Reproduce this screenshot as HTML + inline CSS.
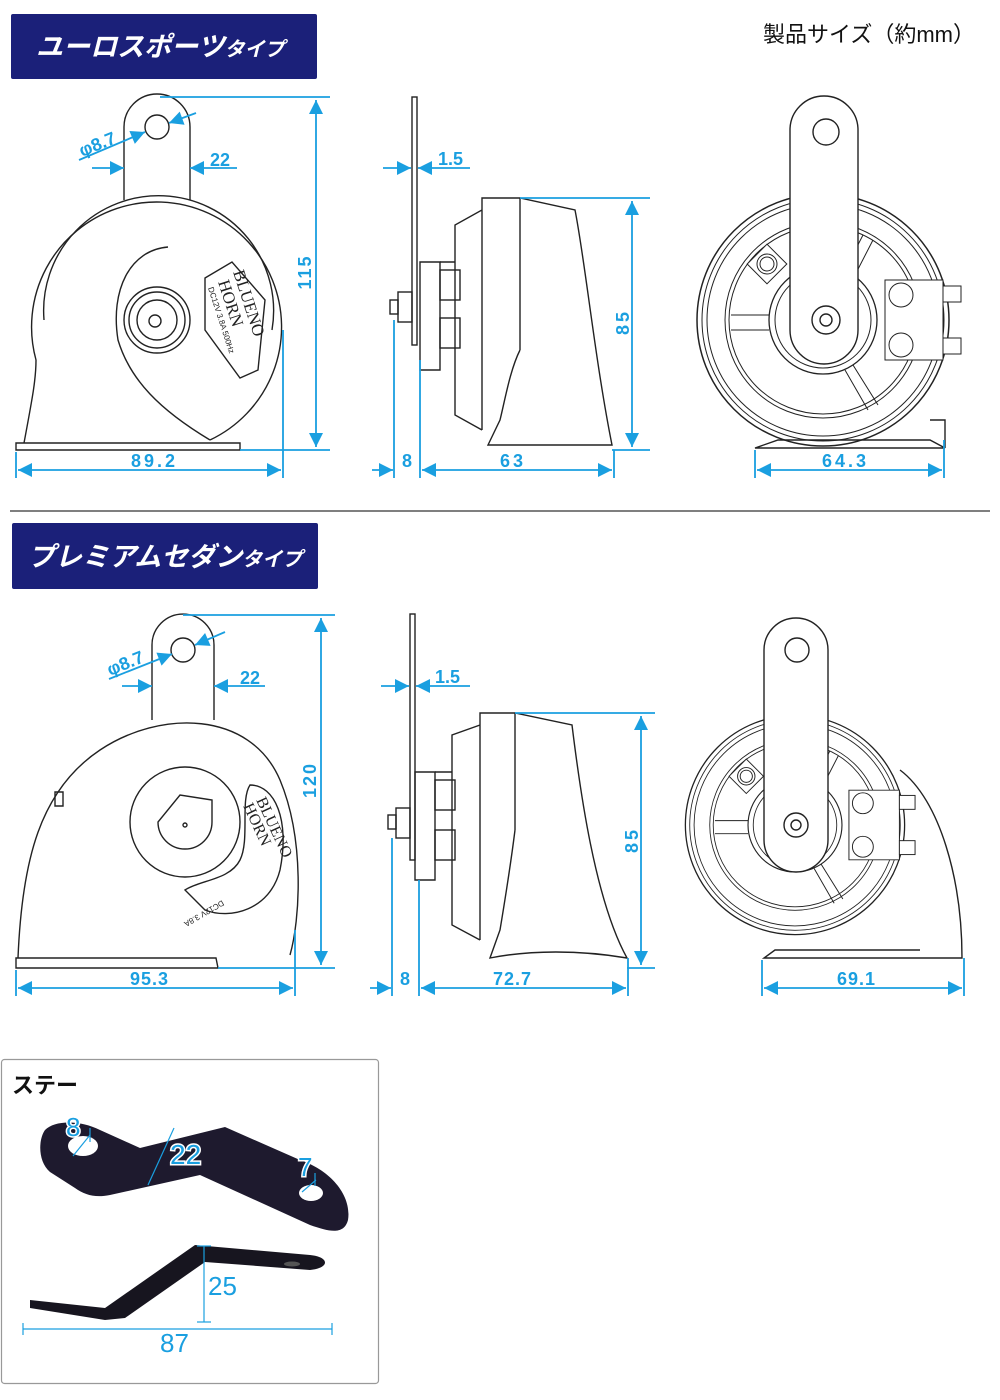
<!DOCTYPE html>
<html><head><meta charset="utf-8"><style>
html,body{margin:0;padding:0;background:#fff;}
svg{display:block}
.t{font-family:"Liberation Sans","Noto Sans CJK JP",sans-serif}
</style></head><body>
<svg width="1000" height="1400" viewBox="0 0 1000 1400" xmlns="http://www.w3.org/2000/svg">
<defs>
<marker id="a" viewBox="0 0 10 10" refX="10" refY="5" markerWidth="18" markerHeight="14" markerUnits="userSpaceOnUse" orient="auto-start-reverse"><path d="M0,0 L10,5 L0,10 z" fill="#1a9fe0"/></marker>
<g id="back">
 <circle cx="0" cy="0" r="126" fill="none" stroke="#222" stroke-width="1.5"/>
 <circle cx="0" cy="0" r="121" fill="none" stroke="#222" stroke-width="1"/>
 <circle cx="0" cy="0" r="116" fill="none" stroke="#222" stroke-width="1"/>
 <circle cx="0" cy="0" r="98" fill="none" stroke="#222" stroke-width="1"/>
 <circle cx="0" cy="0" r="94" fill="none" stroke="#222" stroke-width="1"/>
 <circle cx="0" cy="0" r="54" fill="none" stroke="#222" stroke-width="1.3"/>
 <circle cx="0" cy="0" r="48" fill="none" stroke="#222" stroke-width="1"/>
 <path d="M-92,-5 L-54,-5 M-92,10 L-54,10 M22,50 L45,90 M30,45 L55,85 M22,-50 L40,-85 M32,-45 L50,-80" stroke="#222" fill="none"/>
 <rect x="-70" y="-70" width="28" height="28" transform="rotate(45 -56 -56)" fill="#fff" stroke="#222"/>
 <circle cx="-56" cy="-56" r="10" fill="none" stroke="#222"/><circle cx="-56" cy="-56" r="7" fill="none" stroke="#222"/>
 <path d="M62,-40 h58 v80 h-58 z" fill="#fff" stroke="#222"/>
 <circle cx="78" cy="-25" r="12" fill="none" stroke="#222"/><circle cx="78" cy="25" r="12" fill="none" stroke="#222"/>
 <rect x="120" y="-34" width="18" height="16" fill="#fff" stroke="#222"/><rect x="120" y="18" width="18" height="16" fill="#fff" stroke="#222"/>
 <circle cx="-1" cy="0" r="14" fill="#fff" stroke="#222"/><circle cx="-1" cy="0" r="6" fill="none" stroke="#222"/><circle cx="-1" cy="0" r="3" fill="none" stroke="#222"/>
</g>
</defs>

<rect x="11" y="14" width="306" height="65" rx="2" fill="#1b2079"/>
<text x="36" y="56" class="t" font-size="27" font-weight="bold" font-style="italic" fill="#fff">ユーロスポーツ<tspan font-size="20">タイプ</tspan></text>
<text x="763" y="42" class="t" font-size="22" fill="#111">製品サイズ（約mm）</text>
<rect x="12" y="523" width="306" height="66" rx="2" fill="#1b2079"/>
<text x="28" y="566" class="t" font-size="27" font-weight="bold" font-style="italic" fill="#fff">プレミアムセダン<tspan font-size="20">タイプ</tspan></text>
<line x1="10" y1="511" x2="990" y2="511" stroke="#333" stroke-width="1.2"/>

<g fill="none" stroke="#222" stroke-width="1.4">
<path d="M124,200 L124,127 A33,33 0 0 1 190,127 L190,200"/>
<circle cx="157" cy="127" r="12"/>
<path d="M24,443 C32,400 36,380 36,360 A125,125 0 1 1 210,440"/>
<path d="M44,320 A115,115 0 1 1 272,330"/>
<path d="M16,443 L210,443 L240,443 L240,450 L16,450 Z"/>
<path d="M168,247 C130,250 110,290 118,340 C130,380 160,410 210,440"/>
<circle cx="157" cy="320" r="33"/><circle cx="157" cy="320" r="28"/><circle cx="157" cy="320" r="20"/>
<circle cx="155" cy="321" r="6"/>
<path d="M205,278 L232,262 L265,300 L258,370 L240,378 L205,330 Z"/>
<rect x="412" y="97" width="5" height="248"/>
<rect x="398" y="292" width="14" height="30"/>
<rect x="390" y="300" width="8" height="14"/>
<path d="M420,262 L440,262 L440,370 L420,370 Z"/>
<path d="M440,262 L455,262 L455,225 L482,210 L482,198 L520,198 L575,210 C585,260 595,360 612,445 L488,445 L500,420 C505,400 510,370 520,350 M482,198 L482,430 M520,198 L520,350 M455,262 L455,415 L482,430"/>
<rect x="440" y="270" width="20" height="30"/><rect x="440" y="318" width="20" height="30"/>
<use href="#back" x="823" y="320" stroke-width="1"/>
<path d="M790,330 L790,130 A34,34 0 0 1 858,130 L858,330 A34,34 0 0 1 790,330 Z" fill="#fff"/>
<circle cx="826" cy="132" r="13"/>
<circle cx="826" cy="320" r="14"/><circle cx="826" cy="320" r="6"/>
<path d="M755,448 L778,440 L930,440 L945,448 Z M930,420 L945,420 L945,448"/>

<path d="M152,720 L152,645 A31,31 0 0 1 214,645 L214,720"/>
<circle cx="183" cy="650" r="12"/>
<path d="M18,958 C22,860 40,790 100,750 C160,710 250,710 280,780 C305,840 300,920 290,955"/>
<path d="M16,958 L216,958 L218,968 L16,968 Z"/>
<path d="M55,792 h8 v14 h-8 z"/>
<circle cx="185" cy="822" r="55"/>
<path d="M158,822 A27,27 0 1 0 212,822 L212,800 L180,795 Z"/>
<circle cx="185" cy="825" r="2"/>
<path d="M250,785 C275,785 290,820 280,870 C270,910 230,920 205,910 L185,890 C200,880 230,880 240,860 C250,840 240,800 250,785 Z"/>
<rect x="410" y="614" width="5" height="246"/>
<rect x="396" y="808" width="14" height="30"/><rect x="388" y="815" width="8" height="14"/>
<path d="M415,772 L435,772 L435,880 L415,880 Z"/>
<path d="M435,772 L452,772 L452,735 L480,725 L480,713 L515,713 L572,725 C580,790 595,900 627,958 C580,950 530,950 490,958 L500,930 C505,900 510,870 515,830 M480,713 L480,940 M515,713 L515,830 M452,772 L452,925 L480,940"/>
<rect x="435" y="780" width="20" height="30"/><rect x="435" y="830" width="20" height="30"/>
<g transform="translate(795,825) scale(0.87)"><use href="#back" stroke-width="1.1"/></g>
<path d="M764,840 L764,650 A32,32 0 0 1 828,650 L828,840 A32,32 0 0 1 764,840 Z" fill="#fff"/>
<circle cx="797" cy="650" r="12"/>
<circle cx="796" cy="825" r="12"/><circle cx="796" cy="825" r="5"/>
<path d="M900,770 C940,800 962,880 962,958 L764,958 L775,950 L920,950"/>
</g>
<g class="t" fill="#222">
<text x="0" y="0" font-size="17" font-family="Liberation Serif,serif" transform="translate(233,272) rotate(72)">BLUENO</text>
<text x="0" y="0" font-size="17" font-family="Liberation Serif,serif" transform="translate(218,282) rotate(72)">HORN</text>
<text x="0" y="0" font-size="8" transform="translate(208,288) rotate(72)">DC12V 3.8A 500Hz</text>
<text x="0" y="0" font-size="16" font-family="Liberation Serif,serif" transform="translate(256,800) rotate(65)">BLUENO</text>
<text x="0" y="0" font-size="16" font-family="Liberation Serif,serif" transform="translate(243,806) rotate(65)">HORN</text>
<text x="0" y="0" font-size="8" transform="translate(222,900) rotate(150)">DC12V 3.8A</text>
</g>

<g stroke="#1a9fe0" stroke-width="1.8" fill="none">
<line x1="160" y1="97" x2="330" y2="97"/><line x1="240" y1="450" x2="330" y2="450"/>
<line x1="316" y1="100" x2="316" y2="447" marker-start="url(#a)" marker-end="url(#a)"/>
<line x1="16" y1="452" x2="16" y2="478"/><line x1="283" y1="330" x2="283" y2="478"/>
<line x1="18" y1="470" x2="281" y2="470" marker-start="url(#a)" marker-end="url(#a)"/>
<line x1="92" y1="168" x2="124" y2="168" marker-end="url(#a)"/><line x1="237" y1="168" x2="190" y2="168" marker-end="url(#a)"/>
<line x1="79" y1="160" x2="145" y2="132" marker-end="url(#a)"/><line x1="196" y1="113" x2="169" y2="123" marker-end="url(#a)"/>
<line x1="383" y1="168" x2="411" y2="168" marker-end="url(#a)"/><line x1="470" y1="168" x2="418" y2="168" marker-end="url(#a)"/>
<line x1="520" y1="198" x2="650" y2="198"/><line x1="612" y1="450" x2="650" y2="450"/>
<line x1="632" y1="201" x2="632" y2="447" marker-start="url(#a)" marker-end="url(#a)"/>
<line x1="394" y1="320" x2="394" y2="478"/><line x1="420" y1="360" x2="420" y2="478"/><line x1="614" y1="450" x2="614" y2="478"/>
<line x1="372" y1="470" x2="393" y2="470" marker-end="url(#a)"/>
<line x1="422" y1="470" x2="612" y2="470" marker-start="url(#a)" marker-end="url(#a)"/>
<line x1="755" y1="450" x2="755" y2="478"/><line x1="944" y1="440" x2="944" y2="478"/>
<line x1="757" y1="470" x2="942" y2="470" marker-start="url(#a)" marker-end="url(#a)"/>
<line x1="183" y1="615" x2="335" y2="615"/><line x1="218" y1="968" x2="335" y2="968"/>
<line x1="321" y1="618" x2="321" y2="965" marker-start="url(#a)" marker-end="url(#a)"/>
<line x1="16" y1="970" x2="16" y2="996"/><line x1="295" y1="930" x2="295" y2="996"/>
<line x1="18" y1="988" x2="293" y2="988" marker-start="url(#a)" marker-end="url(#a)"/>
<line x1="122" y1="686" x2="152" y2="686" marker-end="url(#a)"/><line x1="265" y1="686" x2="214" y2="686" marker-end="url(#a)"/>
<line x1="109" y1="679" x2="172" y2="654" marker-end="url(#a)"/><line x1="225" y1="632" x2="195" y2="645" marker-end="url(#a)"/>
<line x1="381" y1="686" x2="409" y2="686" marker-end="url(#a)"/><line x1="470" y1="686" x2="416" y2="686" marker-end="url(#a)"/>
<line x1="515" y1="713" x2="655" y2="713"/><line x1="627" y1="968" x2="655" y2="968"/>
<line x1="641" y1="716" x2="641" y2="965" marker-start="url(#a)" marker-end="url(#a)"/>
<line x1="392" y1="838" x2="392" y2="996"/><line x1="419" y1="880" x2="419" y2="996"/><line x1="628" y1="958" x2="628" y2="996"/>
<line x1="370" y1="988" x2="391" y2="988" marker-end="url(#a)"/>
<line x1="421" y1="988" x2="626" y2="988" marker-start="url(#a)" marker-end="url(#a)"/>
<line x1="762" y1="960" x2="762" y2="996"/><line x1="964" y1="958" x2="964" y2="996"/>
<line x1="764" y1="988" x2="962" y2="988" marker-start="url(#a)" marker-end="url(#a)"/>
</g>
<g class="t" fill="#1a9fe0" font-weight="bold" font-size="18">
<text x="131" y="467" letter-spacing="3">89.2</text>
<text x="311" y="272" transform="rotate(-90 311 272)" text-anchor="middle" letter-spacing="2">115</text>
<text x="210" y="166">22</text>
<text x="82" y="157" transform="rotate(-22 82 157)">φ8.7</text>
<text x="438" y="165">1.5</text>
<text x="629" y="322" transform="rotate(-90 629 322)" text-anchor="middle" letter-spacing="3">85</text>
<text x="402" y="467">8</text>
<text x="500" y="467" letter-spacing="3">63</text>
<text x="822" y="467" letter-spacing="3">64.3</text>
<text x="130" y="985" letter-spacing="1">95.3</text>
<text x="316" y="780" transform="rotate(-90 316 780)" text-anchor="middle" letter-spacing="2">120</text>
<text x="240" y="684">22</text>
<text x="110" y="676" transform="rotate(-22 110 676)">φ8.7</text>
<text x="435" y="683">1.5</text>
<text x="638" y="840" transform="rotate(-90 638 840)" text-anchor="middle" letter-spacing="3">85</text>
<text x="400" y="985">8</text>
<text x="493" y="985" letter-spacing="1">72.7</text>
<text x="837" y="985" letter-spacing="1">69.1</text>
</g>

<rect x="1.5" y="1059.5" width="377" height="324" rx="3" fill="#fff" stroke="#999" stroke-width="1.2"/>
<text x="12" y="1093" class="t" font-size="22" font-weight="bold" fill="#111">ステー</text>
<path d="M45,1130 C55,1120 80,1120 100,1130 L140,1148 L225,1127 L300,1160 C330,1170 352,1195 348,1220 C344,1235 330,1232 310,1225 L200,1175 L110,1195 C95,1198 85,1195 75,1188 L50,1172 C38,1162 38,1140 45,1130 Z" fill="#1e1a2e"/>
<ellipse cx="83" cy="1146" rx="15" ry="10" fill="#fff"/>
<ellipse cx="311" cy="1193" rx="12" ry="8" fill="#fff"/>
<path d="M30,1300 L105,1308 L195,1245 L310,1255 C330,1257 330,1268 310,1270 L205,1262 L125,1318 L105,1320 L30,1308 Z" fill="#17151f"/>
<ellipse cx="292" cy="1264" rx="8" ry="2.5" fill="#555"/>
<g stroke="#1a9fe0" stroke-width="1.2" fill="none">
<line x1="73" y1="1156" x2="90" y2="1135"/><line x1="90" y1="1128" x2="90" y2="1142"/>
<line x1="148" y1="1185" x2="174" y2="1128"/>
<line x1="302" y1="1192" x2="316" y2="1180"/><line x1="315" y1="1173" x2="315" y2="1186"/>
<line x1="204" y1="1246" x2="204" y2="1322"/><line x1="197" y1="1246" x2="211" y2="1246"/><line x1="197" y1="1322" x2="211" y2="1322"/>
<line x1="23" y1="1329" x2="332" y2="1329"/><line x1="23" y1="1323" x2="23" y2="1335"/><line x1="332" y1="1323" x2="332" y2="1335"/>
</g>
<g class="t" fill="#1a9fe0" font-size="26" stroke="#fff" stroke-width="3" paint-order="stroke">
<text x="66" y="1136">8</text>
<text x="170" y="1164" font-size="28">22</text>
<text x="298" y="1176">7</text>
</g>
<text x="208" y="1295" class="t" font-size="26" fill="#1a9fe0">25</text>
<text x="160" y="1352" class="t" font-size="26" fill="#1a9fe0">87</text>
</svg>
</body></html>
